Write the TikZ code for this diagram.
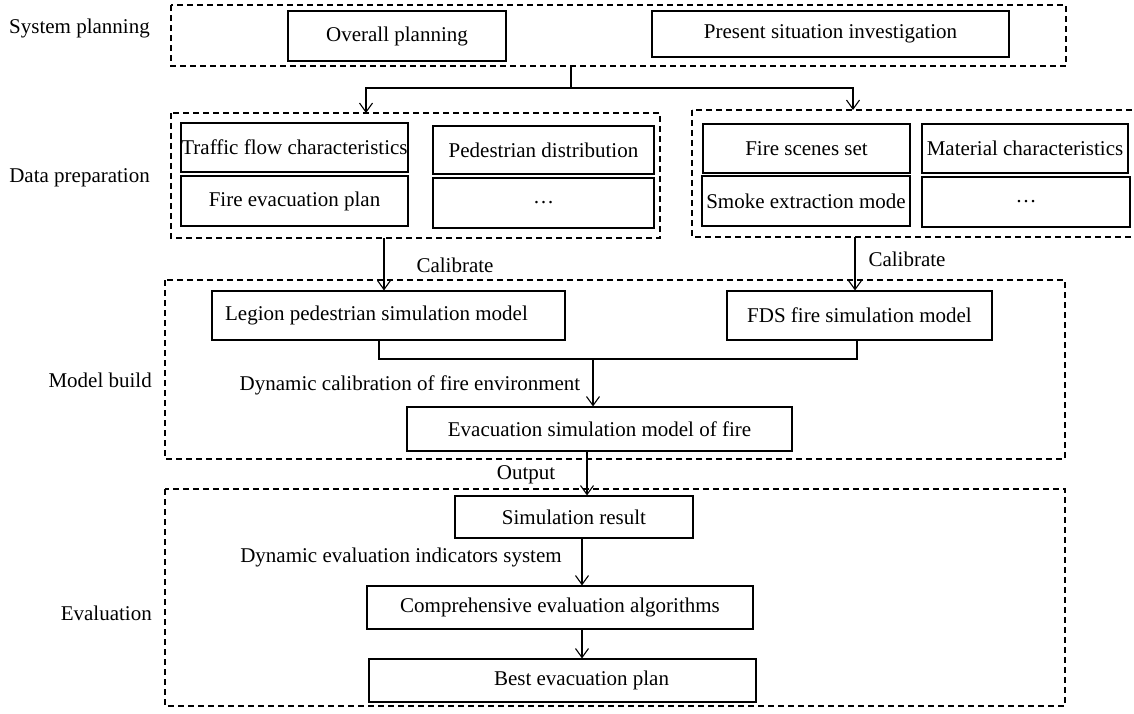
\documentclass[tikz,border=0pt]{standalone}
\usepackage{fontspec}
\setmainfont{Liberation Serif}
\usetikzlibrary{arrows.meta}
\begin{document}
\begin{tikzpicture}[x=1pt,y=-1pt,
  font=\fontsize{21}{24}\selectfont,
  box/.style={draw, line width=1.1pt, inner sep=0pt, anchor=center},
  grp/.style={draw, line width=1.1pt, dash pattern=on 6pt off 4pt},
  conn/.style={line width=1.1pt},
  arr/.style={line width=1.1pt, -{Straight Barb[length=9pt,width=13pt,line width=1.1pt]}},
  side/.style={anchor=east, inner sep=0pt},
  lbl/.style={inner sep=0pt}
]
\useasboundingbox (0,0) rectangle (1134,714);
\clip (0,0) rectangle (1134,714);
\newcommand{\bx}[6]{% name, x1, x2, y1, y2, text
  \node[box, minimum width={#3-#2}, minimum height={#5-#4}] (#1) at ({(#2+#3)/2},{(#4+#5)/2}) {#6};}
\newcommand{\grpbox}[5]{% name, x1,x2,y1,y2
  \draw[grp] (#2,#4) rectangle (#3,#5);
  \coordinate (#1-nw) at (#2,#4); \coordinate (#1-se) at (#3,#5);}

% groups
\grpbox{gtop}{171}{1066}{5}{66}
\grpbox{gleft}{171}{660}{113}{238}
\grpbox{gright}{692}{1145}{110}{237}
\grpbox{gmodel}{165}{1065}{280}{459}
\grpbox{geval}{165}{1065}{489}{706}

% side labels
\node[side] (lsys) at (150,28) {System planning};
\node[side] (ldata) at (150,178) {Data preparation};
\node[side] (lmodel) at (152,380) {Model build};
\node[side] (leval) at (152,613) {Evaluation};

% boxes
\bx{plan}{288}{506}{11}{61}{Overall planning}
\bx{present}{652}{1009}{11}{57}{Present situation investigation}
\bx{traffic}{181}{408}{123}{172}{Traffic flow characteristics}
\bx{ped}{433}{654}{126}{174}{Pedestrian distribution}
\bx{fplan}{181}{408}{176}{226}{Fire evacuation plan}
\bx{dotsa}{433}{654}{178}{228}{\dots}
\bx{scene}{703}{910}{124}{173}{Fire scenes set}
\bx{material}{922}{1128}{124}{173}{Material characteristics}
\bx{smoke}{702}{910}{176}{226}{Smoke extraction mode}
\bx{dotsb}{922}{1130}{177}{227}{\dots}
\bx{legion}{212}{565}{291}{340}{Legion pedestrian simulation model\hspace*{24pt}}
\bx{fds}{727}{992}{291}{340}{FDS fire simulation model}
\bx{evac}{407}{792}{407}{451}{Evacuation simulation model of fire}
\bx{simres}{455}{693}{496}{538}{Simulation result}
\bx{comp}{367}{753}{586}{629}{Comprehensive evaluation algorithms}
\bx{best}{369}{756}{659}{702}{\hspace*{38pt}Best evacuation plan}

% connectors
\coordinate (split) at (571,88);
\draw[conn] (571,66) -- (split);
\draw[arr] (split) -| (366,113);
\draw[arr] (split) -| (853,110);
\draw[arr] (384,238) -- (legion.north -| 384,0);
\draw[arr] (855,237) -- (fds.north -| 855,0);
\node[lbl] (cal1) at (455,265) {Calibrate};
\node[lbl] (cal2) at (907,259) {Calibrate};

\coordinate (join) at (593,359);
\draw[conn] (legion.south -| 379,0) |- (join) -| (fds.south -| 857,0);
\draw[arr] (join) -- (evac.north -| 593,0);
\node[lbl] (dyncal) at (410,385) {Dynamic calibration of fire environment};

\draw[arr] (evac.south -| 587,0) -- (simres.north -| 587,0);
\node[lbl] (out) at (526,475) {Output};

\draw[arr] (simres.south -| 582,0) -- (comp.north -| 582,0);
\node[lbl] (dyneval) at (401,557) {Dynamic evaluation indicators system};
\draw[arr] (comp.south -| 582,0) -- (best.north -| 582,0);
\end{tikzpicture}
\end{document}
